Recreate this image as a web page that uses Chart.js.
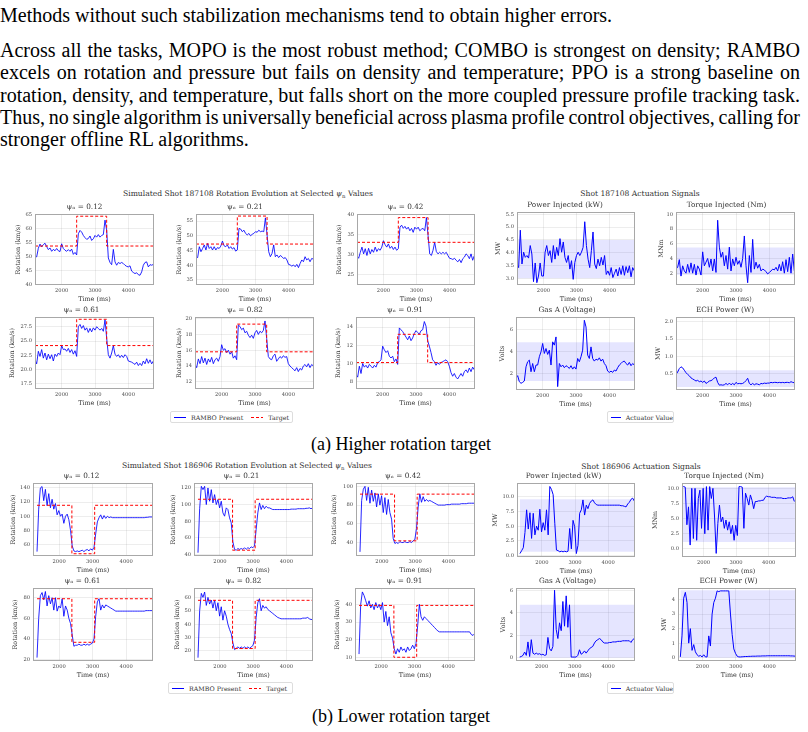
<!DOCTYPE html>
<html>
<head>
<meta charset="utf-8">
<script src="https://cdn.jsdelivr.net/npm/chart.js@4.4.1/dist/chart.umd.min.js"></script>
<style>
  body { margin: 0; background: #fff; width: 808px; height: 732px; position: relative; overflow: hidden; font-family: 'DejaVu Serif', serif; color: #333; }
  .txt { position: absolute; left: 0; width: 800px; font-family: 'Liberation Serif', 'Times New Roman', serif; font-size: 20px; line-height: 22.3px; color: #000; white-space: nowrap; }
  .j { text-align: justify; text-align-last: justify; }
  .sup { position: absolute; font-size: 7.6px; white-space: nowrap; transform: translate(-50%, -50%); }
  .sup sub { font-size: 5.4px; }
  .cap { position: absolute; font-family: 'Liberation Serif', 'Times New Roman', serif; font-size: 18px; color: #000; white-space: nowrap; transform: translate(-50%, -50%); }
  canvas { position: absolute; }
  .leg { position: absolute; border: 1px solid #ddd; border-radius: 2px; font-size: 6.3px; display: flex; align-items: center; white-space: nowrap; box-sizing: border-box; }
  .sw { display: inline-block; width: 12px; height: 1px; background: #00f; margin: 0 5px 0 3px; }
  .sw.dash { background: repeating-linear-gradient(to right, #f00 0 3px, transparent 3px 5px); }
</style>
</head>
<body>

<div class="txt" style="top:4px">Methods without such stabilization mechanisms tend to obtain higher errors.</div>
<div class="txt" style="top:39px">
  <div class="j">Across all the tasks, MOPO is the most robust method; COMBO is strongest on density; RAMBO</div>
  <div class="j">excels on rotation and pressure but fails on density and temperature; PPO is a strong baseline on</div>
  <div class="j">rotation, density, and temperature, but falls short on the more coupled pressure profile tracking task.</div>
  <div class="j">Thus, no single algorithm is universally beneficial across plasma profile control objectives, calling for</div>
  <div>stronger offline RL algorithms.</div>
</div>

<div class="sup" style="left:248px;top:194px">Simulated Shot 187108 Rotation Evolution at Selected <i>ψ</i><sub>n</sub> Values</div>
<div class="sup" style="left:640px;top:193px">Shot 187108 Actuation Signals</div>
<div class="sup" style="left:247px;top:466px">Simulated Shot 186906 Rotation Evolution at Selected <i>ψ</i><sub>n</sub> Values</div>
<div class="sup" style="left:641px;top:466px">Shot 186906 Actuation Signals</div>

<div class="leg" style="left:170px;top:411px;width:123px;height:12px"><span class="sw"></span>RAMBO Present<span class="sw dash" style="margin-left:8px"></span>Target</div>
<div class="leg" style="left:607px;top:411px;width:67px;height:12px"><span class="sw"></span>Actuator Value</div>
<div class="leg" style="left:168px;top:682px;width:125px;height:12px"><span class="sw"></span>RAMBO Present<span class="sw dash" style="margin-left:8px"></span>Target</div>
<div class="leg" style="left:607px;top:682px;width:67px;height:12px"><span class="sw"></span>Actuator Value</div>

<div class="cap" style="left:401px;top:444px">(a) Higher rotation target</div>
<div class="cap" style="left:401px;top:716px">(b) Lower rotation target</div>

<script>
// ---- tick labels ----
const X_TICKS = [2000, 3000, 4000];
const YT_A_ROT = [[40, 45, 50, 55, 60, 65], [35, 40, 45, 50, 55], [25, 30, 35, 40], [17.5, 20, 22.5, 25, 27.5], [12, 14, 16, 18, 20], [8, 10, 12, 14]];
const YT_A_ACT = [[3, 3.5, 4, 4.5, 5, 5.5], [2, 4, 6, 8, 10], [2, 4, 6], [0.5, 1, 1.5, 2]];
const YT_B_ROT = [[60, 80, 100, 120, 140], [40, 60, 80, 100, 120], [40, 60, 80, 100], [20, 40, 60, 80], [20, 30, 40, 50, 60], [10, 20, 30, 40]];
const YT_B_ACT = [[0, 2.5, 5, 7.5, 10], [0, 2.5, 5, 7.5, 10], [0, 2, 4, 6], [0, 1, 2, 3, 4]];

// ---- data: shot 187108 (higher rotation target) ----
const TIME_A = [1200, 1250, 1300, 1350, 1400, 1450, 1500, 1550, 1600, 1650,
  1700, 1750, 1800, 1850, 1900, 1950, 2000, 2050, 2100, 2150,
  2200, 2250, 2300, 2350, 2400, 2450, 2500, 2550, 2600, 2650,
  2700, 2750, 2800, 2850, 2900, 2950, 3000, 3050, 3100, 3150,
  3200, 3250, 3300, 3350, 3400, 3450, 3500, 3550, 3600, 3650,
  3700, 3750, 3800, 3850, 3900, 3950, 4000, 4050, 4100, 4150,
  4200, 4250, 4300, 4350, 4400, 4450, 4500, 4550, 4600, 4650,
  4700, 4750];
const STEP_T_A = [1200, 2450, 3350, 4770];
const PSI = ['0.12', '0.21', '0.42', '0.61', '0.82', '0.91'];
const TARGET_LO_A = [53.8, 47.2, 33.1, 24.2, 15.8, 10.1];
const TARGET_HI_A = [64.5, 56.7, 39.3, 28.8, 19.3, 13.2];

const A_R012 = [50.1, 49.9, 53.0, 54.5, 53.5, 54.3, 54.8, 53.6, 52.5, 53.1,
  51.9, 52.6, 52.1, 52.9, 52.1, 51.8, 54.6, 52.9, 52.3, 51.9,
  52.5, 51.9, 52.7, 50.8, 51.5, 50.6, 58.2, 59.4, 58.8, 57.6,
  56.8, 56.2, 56.5, 57.4, 55.8, 56.4, 57.6, 57.0, 57.9, 57.0,
  57.6, 57.9, 63.1, 59.5, 49.5, 47.9, 47.1, 52.6, 48.1, 46.9,
  47.9, 47.5, 47.9, 47.5, 46.9, 46.5, 46.3, 46.7, 44.8, 44.3,
  43.9, 44.2, 43.5, 43.3, 44.5, 46.9, 47.9, 48.1, 46.3, 47.1,
  46.9, 47.2];
const A_R021 = [42.9, 42.6, 46.3, 44.6, 45.7, 46.9, 45.2, 47.4, 45.7, 46.3,
  45.2, 46.3, 45.2, 46.0, 45.7, 46.5, 48.2, 46.6, 46.3, 46.9,
  45.7, 46.3, 45.5, 46.0, 44.8, 45.2, 52.5, 52.3, 51.4, 51.9,
  50.8, 50.3, 50.8, 50.0, 50.5, 50.8, 51.4, 51.2, 51.9, 51.4,
  51.6, 51.4, 56.1, 50.3, 44.6, 42.9, 44.0, 46.9, 42.9, 43.5,
  42.6, 43.3, 42.9, 42.3, 42.6, 41.8, 40.3, 40.1, 39.7, 40.1,
  39.5, 40.3, 39.2, 40.6, 41.8, 41.2, 42.9, 41.8, 42.3, 41.2,
  42.3, 42.1];
const A_R042 = [29.6, 29.1, 30.6, 31.9, 30.2, 31.5, 29.8, 31.6, 30.2, 31.3,
  30.6, 31.9, 30.8, 31.5, 31.1, 31.9, 33.5, 32.5, 31.9, 32.7,
  31.6, 32.1, 31.3, 31.9, 31.1, 31.5, 36.9, 37.4, 36.6, 37.1,
  36.4, 36.9, 36.0, 36.6, 35.6, 36.9, 36.4, 36.9, 36.0, 36.4,
  36.6, 36.0, 39.3, 34.8, 30.2, 29.8, 31.1, 33.1, 30.8, 30.2,
  30.6, 30.2, 30.6, 30.2, 30.6, 29.8, 29.1, 29.0, 28.8, 29.1,
  28.6, 28.2, 28.8, 28.0, 29.0, 29.4, 30.2, 29.8, 29.0, 30.2,
  28.6, 29.8];
const A_R061 = [21.7, 21.0, 23.2, 22.3, 23.5, 22.0, 22.9, 21.7, 22.7, 21.9,
  22.6, 21.5, 22.7, 22.3, 22.9, 22.6, 24.2, 23.5, 23.6, 23.2,
  23.7, 23.0, 23.5, 22.7, 23.3, 22.3, 27.5, 27.9, 27.2, 27.7,
  26.9, 27.3, 26.5, 27.2, 26.6, 27.3, 26.9, 27.5, 27.2, 26.9,
  27.2, 26.7, 28.7, 25.5, 22.6, 22.0, 22.9, 24.2, 22.7, 22.3,
  22.6, 22.1, 22.5, 22.1, 22.6, 22.3, 21.5, 21.4, 21.3, 21.1,
  20.9, 21.3, 20.7, 21.1, 20.7, 21.5, 21.0, 21.9, 21.1, 21.7,
  21.0, 21.5];
const A_R082 = [14.2, 13.8, 14.9, 14.3, 15.2, 14.4, 15.0, 14.2, 14.9, 14.5,
  15.1, 14.3, 14.8, 15.0, 14.6, 15.2, 16.7, 16.0, 16.2, 15.7,
  16.0, 15.5, 15.8, 15.0, 15.3, 14.8, 19.2, 19.0, 18.6, 18.8,
  18.2, 18.4, 17.9, 17.6, 17.9, 17.5, 18.2, 18.5, 18.0, 18.4,
  18.2, 18.5, 19.7, 17.5, 15.2, 14.9, 14.8, 15.3, 15.5, 14.6,
  14.9, 15.2, 15.0, 15.3, 15.1, 15.2, 14.3, 14.0, 13.8, 13.6,
  13.4, 13.8, 13.3, 13.7, 13.5, 14.0, 14.2, 13.9, 14.3, 13.8,
  14.2, 14.0];
const A_R091 = [8.8, 8.5, 9.7, 8.9, 10.0, 9.6, 9.8, 9.5, 9.9, 9.7,
  9.5, 9.8, 9.6, 10.1, 10.2, 10.4, 11.9, 11.5, 11.2, 11.4,
  10.8, 10.6, 10.8, 10.2, 10.5, 9.9, 13.9, 13.7, 13.5, 13.2,
  12.9, 12.6, 13.0, 12.5, 12.8, 13.3, 13.6, 13.4, 13.2, 13.6,
  13.7, 14.6, 14.1, 12.5, 11.9, 11.2, 10.4, 10.2, 9.8, 10.1,
  9.9, 10.1, 10.2, 10.3, 10.4, 10.2, 9.7, 9.0, 8.6, 8.9,
  8.5, 8.3, 8.6, 8.9, 8.6, 9.1, 9.3, 9.0, 9.5, 9.1,
  9.6, 9.3];

const A_PWR = [3.53, 3.42, 4.88, 3.56, 4.02, 3.82, 3.89, 3.79, 4.28, 3.95,
  2.87, 3.60, 2.83, 3.09, 3.60, 3.09, 3.09, 4.02, 4.28, 3.89,
  4.08, 3.62, 4.28, 3.75, 4.21, 3.89, 4.55, 4.02, 4.42, 3.82,
  3.62, 3.89, 3.36, 3.69, 2.96, 3.62, 3.89, 4.02, 3.89, 4.02,
  4.21, 5.21, 4.28, 3.75, 3.42, 4.08, 4.81, 3.56, 3.38, 3.75,
  3.49, 3.82, 3.52, 3.89, 3.15, 3.29, 3.12, 3.42, 3.03, 3.20,
  3.36, 3.09, 3.42, 3.15, 3.49, 3.12, 3.46, 3.22, 3.49, 3.06,
  3.42, 3.29];
const A_TRQ = [2.55, 2.80, 3.84, 1.60, 3.00, 2.30, 2.00, 3.20, 2.10, 3.40,
  2.00, 3.20, 1.74, 3.00, 2.55, 1.74, 4.90, 3.00, 3.50, 4.00,
  2.80, 3.93, 2.30, 3.93, 2.10, 9.20, 5.54, 4.16, 4.85, 3.00,
  4.40, 2.55, 5.54, 2.30, 3.93, 3.00, 4.16, 3.20, 3.70, 2.80,
  4.00, 7.06, 3.00, 0.70, 4.40, 2.10, 6.60, 2.55, 3.50, 2.67,
  3.20, 2.30, 2.55, 2.44, 2.20, 1.90, 2.10, 2.30, 2.55, 2.44,
  2.80, 2.30, 3.20, 2.30, 3.56, 2.00, 3.84, 2.20, 4.16, 2.00,
  4.60, 2.30];
const A_GAS = [1.60, 1.79, 1.24, 1.09, 1.18, 1.30, 2.60, 3.06, 3.21, 2.15,
  2.90, 2.15, 2.76, 2.76, 3.52, 3.97, 4.73, 3.82, 4.27, 3.73,
  4.12, 2.76, 4.88, 4.58, 5.33, 0.79, 2.90, 2.60, 2.76, 2.52,
  2.70, 2.60, 2.45, 2.70, 2.39, 2.60, 2.39, 3.36, 3.06, 3.52,
  4.12, 6.85, 6.24, 3.67, 3.36, 4.42, 3.36, 3.12, 3.30, 3.21,
  3.42, 3.12, 3.30, 2.90, 2.70, 2.21, 2.09, 2.21, 2.09, 2.30,
  2.21, 2.52, 2.76, 2.90, 3.06, 3.12, 2.90, 2.76, 3.00, 2.70,
  2.90, 2.76];
const A_ECH = [0.48, 0.55, 0.65, 0.70, 0.67, 0.60, 0.53, 0.48, 0.44, 0.38,
  0.35, 0.32, 0.29, 0.31, 0.27, 0.29, 0.25, 0.29, 0.22, 0.25,
  0.29, 0.30, 0.33, 0.38, 0.40, 0.25, 0.17, 0.18, 0.17, 0.18,
  0.22, 0.18, 0.23, 0.18, 0.22, 0.18, 0.25, 0.21, 0.22, 0.21,
  0.22, 0.25, 0.30, 0.37, 0.22, 0.18, 0.22, 0.18, 0.21, 0.20,
  0.18, 0.22, 0.21, 0.23, 0.22, 0.23, 0.23, 0.25, 0.24, 0.25,
  0.25, 0.24, 0.25, 0.24, 0.25, 0.24, 0.25, 0.25, 0.24, 0.27,
  0.25, 0.24];
const BAND_T_A = [1200, 4770];
const BAND_LO_A = [3.0, 1.8, 1.3, 0.12];
const BAND_HI_A = [4.5, 5.5, 4.85, 0.6];

// ---- data: shot 186906 (lower rotation target) ----
const TIME_B = [1340, 1390, 1440, 1490, 1540, 1590, 1640, 1690, 1740, 1790,
  1840, 1890, 1940, 1990, 2040, 2090, 2140, 2190, 2240, 2290,
  2340, 2390, 2440, 2490, 2540, 2590, 2640, 2690, 2740, 2790,
  2840, 2890, 2940, 2990, 3040, 3090, 3140, 3190, 3240, 3290,
  3340, 3390, 3440, 3490, 3540, 3590, 3640, 3690, 3740, 3790,
  3840, 3890, 3940, 3990, 4040, 4090, 4140, 4190, 4240, 4290,
  4340, 4390, 4440, 4490, 4540, 4590, 4640, 4690, 4740, 4790];
const STEP_T_B = [1340, 2380, 3060, 4800];
const TARGET_HI_B = [115.5, 106.4, 91.7, 79.0, 57.8, 39.4];
const TARGET_LO_B = [47.0, 45.0, 41.8, 36.8, 21.8, 10.2];

const B_R012 = [50, 110, 140, 142, 122, 138, 115, 132, 112, 124,
  110, 118, 102, 108, 100, 103, 90, 100, 103, 95,
  80, 58, 51, 50, 51, 50, 51, 52, 50, 52,
  53, 51, 54, 52, 56, 75, 92, 98, 102, 96,
  101, 97, 100, 98, 99, 98, 98, 98, 98, 98,
  98, 98, 98, 98, 98, 98, 98, 98, 98, 98,
  98, 98, 98, 98, 98, 98.5, 98.5, 99, 99, 99];
const B_R021 = [42, 95, 122, 118, 122, 100, 120, 104, 118, 102,
  112, 100, 106, 96, 104, 90, 86, 96, 94, 84,
  78, 55, 46, 45, 47, 46, 47, 46, 48, 46,
  48, 47, 49, 48, 50, 70, 90, 102, 94, 99,
  95, 98, 96, 96, 95, 94, 94, 94, 94, 94,
  94, 94, 94, 94, 94, 94, 94.5, 94.5, 94.5, 94.5,
  95, 95, 95, 95, 95, 95.5, 95.5, 96, 95, 96];
const B_R042 = [30, 85, 97, 100, 85, 99, 82, 96, 84, 93,
  78, 92, 80, 90, 72, 88, 70, 86, 72, 65,
  44, 39, 40, 39, 41, 40, 40, 41, 40, 40,
  41, 40, 42, 43, 55, 78, 92, 83, 89, 84,
  86, 84, 85, 84, 83, 82, 81, 80, 80, 80,
  80, 80, 80.5, 80.5, 80.5, 81, 81, 81, 81, 81,
  81, 81.5, 81.5, 81.5, 81.5, 82, 82, 82, 82, 82];
const B_R061 = [22, 60, 82, 85, 78, 86, 72, 82, 74, 80,
  68, 80, 67, 72, 70, 79, 62, 72, 68, 60,
  55, 44, 33, 34, 34, 35, 34, 34, 35, 34,
  35, 34, 35, 36, 40, 62, 76, 79, 68, 73,
  70, 73, 72, 71, 70, 69, 68, 67, 67, 67,
  67, 67, 67, 67, 67, 67, 67, 67, 67, 67,
  67, 67, 67, 67, 67, 67.5, 67.5, 67.5, 67.5, 67.5];
const B_R082 = [15, 50, 63, 60, 64, 54, 60, 55, 58, 52,
  58, 50, 56, 46, 53, 43, 50, 46, 40, 36,
  33, 26, 21, 22, 23, 22, 23, 22, 23, 22,
  23, 22, 23, 24, 28, 45, 56, 59, 50, 54,
  52, 53, 51, 50, 49, 48, 47, 46, 45, 44.5,
  44, 44, 44, 44, 44, 44, 44, 44, 44, 44,
  44, 44, 44, 44.5, 44.5, 44.5, 45, 44, 43.5, 43.5];
const B_R091 = [12, 40, 47, 45, 42, 39, 42, 38, 40, 37,
  41, 38, 40, 37, 41, 30, 36, 28, 33, 24,
  21, 15, 12, 15, 13, 16, 14, 15, 13, 16,
  14, 15, 17, 15, 18, 28, 40, 33, 31, 33,
  32, 31, 30, 29, 28, 27, 26, 25, 24.5, 24.5,
  24.5, 24.5, 24.5, 24.5, 24.5, 24.5, 24.5, 24.5, 24.5, 24.5,
  24.5, 24.5, 24.5, 24.5, 24.5, 24.5, 24.5, 23, 22.5, 23.5];

const B_PWR = [0.3, 0.8, 1.3, 3.9, 7.8, 4.5, 7.3, 2.9, 7.2, 3.5,
  5.0, 4.3, 7.9, 4.0, 5.6, 4.3, 7.8, 3.5, 11.8, 11.3,
  10.4, 5.5, 0.9, 0.8, 0.6, 0.7, 0.6, 0.7, 0.6, 0.7,
  4.6, 1.1, 6.0, 4.9, 0.3, 1.7, 7.2, 7.8, 9.5, 6.9,
  8.6, 8.0, 8.9, 9.3, 9.5, 9.0, 8.7, 8.6, 8.6, 8.6,
  8.6, 8.6, 8.6, 8.6, 8.6, 8.6, 8.6, 8.6, 8.6, 8.6,
  8.6, 8.5, 8.5, 8.4, 8.3, 8.8, 9.1, 9.6, 9.8, 9.3];
const B_TRQ = [10.4, 10.4, 10.3, 4.0, 7.0, 0.6, 10.1, 1.7, 10.1, 1.4,
  8.4, 9.8, 3.4, 10.1, 2.5, 10.4, 3.1, 10.4, 8.4, 10.1,
  5.3, -0.8, 4.2, 7.3, 4.5, 5.3, 3.4, 4.8, 3.1, 4.5,
  2.5, 3.9, 1.4, 3.9, 2.2, 10.4, 10.4, 10.3, 3.4, 9.3,
  8.4, 7.3, 9.0, 8.1, 6.7, 7.9, 7.9, 8.0, 8.0, 8.1,
  8.1, 8.6, 8.8, 8.7, 8.7, 8.6, 8.6, 8.6, 8.5, 8.5,
  8.5, 8.5, 8.4, 8.4, 8.4, 8.5, 8.5, 8.5, 8.7, 7.9];
const B_GAS = [0.05, 0.1, 0.2, 0.5, 0.2, 1.4, 0.1, 1.6, 0.4, 0.3,
  0.4, 0.3, 0.35, 0.25, 0.3, 0.2, 0.25, 1.8, 0.8, 0.6,
  1.0, 6.0, 2.5, 1.7, 3.1, 2.4, 5.0, 2.8, 5.5, 2.7,
  4.7, 0.05, 0.05, 0.05, 0.05, 0.2, 0.7, 0.3, 0.4, 0.6,
  0.4, 0.6, 0.8, 0.9, 1.0, 1.3, 1.5, 1.6, 1.7, 1.6,
  1.4, 1.3, 1.3, 1.3, 1.35, 1.35, 1.4, 1.4, 1.4, 1.45,
  1.45, 1.45, 1.5, 1.5, 1.5, 1.5, 1.5, 1.35, 1.6, 1.7];
const B_ECH = [0.05, 1.5, 4.1, 4.5, 3.8, 1.0, 2.0, 0.5, 0.9, 0.4,
  0.2, 0.1, 0.15, 0.05, 0.2, 0.05, 0.05, 1.5, 0.8, 3.0,
  3.8, 4.1, 4.6, 4.55, 4.6, 4.6, 4.6, 4.6, 4.6, 4.6,
  3.0, 1.6, 0.6, 0.3, 0.1, 0.05, 0.05, 0.06, 0.07, 0.08,
  0.08, 0.09, 0.09, 0.1, 0.1, 0.1, 0.11, 0.11, 0.11, 0.12,
  0.12, 0.12, 0.13, 0.13, 0.13, 0.13, 0.13, 0.13, 0.13, 0.13,
  0.13, 0.13, 0.13, 0.13, 0.13, 0.13, 0.12, 0.12, 0.11, 0.1];
const BAND_T_B = [1340, 4810];
const BAND_LO_B = [0.6, 1.1, 0.0, 0.0];
const BAND_HI_B = [9.6, 10.3, 4.7, 4.65];

const ACT_TITLES = ['Power Injected (kW)', 'Torque Injected (Nm)', 'Gas A (Voltage)', 'ECH Power (W)'];
const ACT_UNITS = ['MW', 'MNm', 'Volts', 'MW'];

(function() {
    'use strict';

    // squeeze the justified paragraph lines so they fit the text column
    document.querySelectorAll('.j').forEach(function(el) {
        var ws = 0;
        while (el.scrollWidth > 800 && ws > -8) {
            ws -= 0.25;
            el.style.wordSpacing = ws + 'px';
        }
    });

    var FONT = "'DejaVu Serif', 'DejaVu Sans', serif";
    var TH = 11, XH = 18;
    var BLUE = '#0000ff';

    // frame rectangles (px) and y-axis widths for each small plot
    var frameA = [
        {l: 35, t: 214, r: 154, b: 285, yw: 20}, {l: 196, t: 214, r: 314, b: 285, yw: 20}, {l: 357, t: 214, r: 475, b: 285, yw: 21},
        {l: 35, t: 317, r: 154, b: 389, yw: 26}, {l: 195, t: 317, r: 314, b: 389, yw: 19}, {l: 356, t: 317, r: 475, b: 389, yw: 21}
    ];
    var frameAct = [
        {l: 517, t: 212, r: 635, b: 285, yw: 22}, {l: 676, t: 212, r: 795, b: 285, yw: 18},
        {l: 516, t: 317, r: 635, b: 390, yw: 17}, {l: 676, t: 317, r: 795, b: 390, yw: 21}
    ];
    var frameB = [
        {l: 33, t: 483, r: 153, b: 556, yw: 23}, {l: 194, t: 483, r: 313, b: 556, yw: 24}, {l: 356, t: 483, r: 475, b: 556, yw: 25},
        {l: 33, t: 588, r: 153, b: 661, yw: 21}, {l: 194, t: 588, r: 313, b: 661, yw: 20}, {l: 355, t: 588, r: 475, b: 661, yw: 21}
    ];
    var frameBct = [
        {l: 517, t: 483, r: 635, b: 557, yw: 25}, {l: 682, t: 483, r: 796, b: 557, yw: 30},
        {l: 516, t: 588, r: 635, b: 661, yw: 16}, {l: 678, t: 588, r: 796, b: 661, yw: 17}
    ];

    // y limits [min, max, decimals]
    var yA = [[39.8, 65.3, 0], [33.3, 57.4, 0], [22.4, 40.2, 0], [16.6, 29.2, 1], [11.1, 20.2, 0], [7.2, 15.1, 0]];
    var yAct = [[2.74, 5.59, 1], [0.39, 10.32, 0], [0.48, 7.15, 0], [0.03, 2.14, 1]];
    var yB = [[43.8, 147, 0], [38, 126, 0], [25.6, 103.6, 0], [18.7, 89.4, 0], [12.5, 67, 0], [8.1, 49.2, 0]];
    var yBct = [[-0.29, 12.4, 1], [-1.4, 11.0, 1], [-0.3, 6.2, 0], [-0.23, 4.8, 0]];
    var xA = [1200, 4770];
    var xBrot = [1220, 4800];
    var xBct = [[1250, 4810], [1340, 4840], [1230, 4810], [1270, 4800]];

    function pts(ts, vs) {
        return ts.map(function(t, i) { return {x: t, y: vs[i]}; });
    }
    function tickList(vals) {
        return vals.map(function(v) { return {value: v}; });
    }

    var framePlugin = {
        id: 'frame',
        afterDraw: function(chart) {
            var a = chart.chartArea, ctx = chart.ctx;
            ctx.save();
            ctx.strokeStyle = '#a8a8a8';
            ctx.lineWidth = 1;
            ctx.strokeRect(Math.round(a.left) + 0.5, Math.round(a.top) + 0.5,
                Math.round(a.right - a.left) - 1, Math.round(a.bottom - a.top) - 1);
            ctx.restore();
        }
    };

    function panel(f, title, ylabel, xr, yr, yticks, datasets) {
        var w = f.r - f.l + f.yw + 1, h = f.b - f.t + TH + XH;
        var c = document.createElement('canvas');
        c.width = w; c.height = h;
        c.style.left = (f.l - f.yw) + 'px';
        c.style.top = (f.t - TH) + 'px';
        c.style.width = w + 'px';
        c.style.height = h + 'px';
        document.body.appendChild(c);

        var grid = {color: 'rgba(0,0,0,0.07)', drawTicks: false};
        new Chart(c, {
            type: 'line',
            data: {datasets: datasets},
            plugins: [framePlugin],
            options: {
                responsive: false,
                animation: false,
                layout: {padding: {right: 1}},
                plugins: {
                    legend: {display: false},
                    tooltip: {enabled: false},
                    title: {
                        display: true, text: title, color: '#333',
                        font: {family: FONT, size: 7.3, weight: 'normal', lineHeight: 1.2},
                        padding: {top: 0, bottom: 2.24}
                    }
                },
                scales: {
                    x: {
                        type: 'linear', min: xr[0], max: xr[1],
                        afterFit: function(s) { s.height = XH; },
                        afterBuildTicks: function(s) { s.ticks = tickList(X_TICKS); },
                        grid: grid, border: {display: false},
                        ticks: {
                            autoSkip: false, maxRotation: 0, padding: 3,
                            color: '#444', font: {family: FONT, size: 5.2},
                            callback: function(v) { return String(v); }
                        },
                        title: {display: true, text: 'Time (ms)', color: '#333', padding: 0, font: {family: FONT, size: 6.4}}
                    },
                    y: {
                        min: yr[0], max: yr[1],
                        afterFit: function(s) { s.width = f.yw; },
                        afterBuildTicks: function(s) { s.ticks = tickList(yticks); },
                        grid: grid, border: {display: false},
                        ticks: {
                            autoSkip: false, padding: 3,
                            color: '#444', font: {family: FONT, size: 5.2},
                            callback: function(v) { return Number(v).toFixed(yr[2]); }
                        },
                        title: {display: true, text: ylabel, color: '#333', padding: 0, font: {family: FONT, size: 6.4}}
                    }
                }
            }
        });
    }

    function rotationSets(times, vals, stepT, levels) {
        return [
            {data: pts(stepT, levels), borderColor: '#ff0000', borderWidth: 1, borderDash: [3, 2],
             stepped: true, pointRadius: 0, fill: false},
            {data: pts(times, vals), borderColor: 'rgba(0,0,255,0.85)', borderWidth: 1, pointRadius: 0, fill: false}
        ];
    }

    function actuatorSets(times, vals, bandT, lo, hi) {
        return [
            {data: pts(times, vals), borderColor: BLUE, borderWidth: 1, pointRadius: 0, fill: false},
            {data: pts(bandT, [lo, lo]), borderWidth: 0, borderColor: 'rgba(0,0,0,0)', pointRadius: 0, fill: false},
            {data: pts(bandT, [hi, hi]), borderWidth: 0, borderColor: 'rgba(0,0,0,0)', pointRadius: 0,
             fill: '-1', backgroundColor: 'rgba(0,0,255,0.1)'}
        ];
    }

    var rotA = [A_R012, A_R021, A_R042, A_R061, A_R082, A_R091];
    var rotB = [B_R012, B_R021, B_R042, B_R061, B_R082, B_R091];
    var actA = [A_PWR, A_TRQ, A_GAS, A_ECH];
    var actB = [B_PWR, B_TRQ, B_GAS, B_ECH];

    rotA.forEach(function(vals, i) {
        var lo = TARGET_LO_A[i], hi = TARGET_HI_A[i];
        panel(frameA[i], 'ψₙ = ' + PSI[i], 'Rotation (km/s)', xA, yA[i], YT_A_ROT[i],
            rotationSets(TIME_A, vals, STEP_T_A, [lo, hi, lo, lo]));
    });
    actA.forEach(function(vals, i) {
        panel(frameAct[i], ACT_TITLES[i], ACT_UNITS[i], xA, yAct[i], YT_A_ACT[i],
            actuatorSets(TIME_A, vals, BAND_T_A, BAND_LO_A[i], BAND_HI_A[i]));
    });
    rotB.forEach(function(vals, i) {
        var lo = TARGET_LO_B[i], hi = TARGET_HI_B[i];
        panel(frameB[i], 'ψₙ = ' + PSI[i], 'Rotation (km/s)', xBrot, yB[i], YT_B_ROT[i],
            rotationSets(TIME_B, vals, STEP_T_B, [hi, lo, hi, hi]));
    });
    actB.forEach(function(vals, i) {
        panel(frameBct[i], ACT_TITLES[i], ACT_UNITS[i], xBct[i], yBct[i], YT_B_ACT[i],
            actuatorSets(TIME_B, vals, BAND_T_B, BAND_LO_B[i], BAND_HI_B[i]));
    });
})();
</script>
</body>
</html>
